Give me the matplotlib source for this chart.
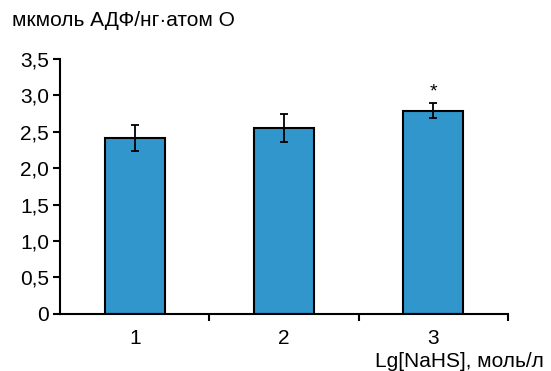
import matplotlib.pyplot as plt

plt.rcParams['font.family'] = ['Liberation Sans', 'DejaVu Sans']

groups = [1, 2, 3]
values = [2.42, 2.55, 2.79]
errors = [0.18, 0.19, 0.10]
yticks = [0, 0.5, 1.0, 1.5, 2.0, 2.5, 3.0, 3.5]
ytick_labels = ["0", "0,5", "1,0", "1,5", "2,0", "2,5", "3,0", "3,5"]
ylabel = "мкмоль АДФ/нг·атом О"
xlabel = "Lg[NaHS], моль/л"
star_group = 3
star_y = 3.05

fig = plt.figure(figsize=(5.51, 3.71), dpi=100)
ax = fig.add_axes([0.109, 0.154, 0.813, 0.687])

ax.bar(groups, values, width=0.4, color="#3196cb", edgecolor="black", linewidth=1.5, zorder=2)
ax.errorbar(groups, values, yerr=errors, fmt="none", ecolor="black", elinewidth=1.3,
            capsize=3, capthick=1.3, zorder=3)
ax.text(star_group, star_y, "*", ha="center", va="center", fontsize=14)

ax.set_xlim(0.5, 3.5)
ax.set_ylim(0, 3.5)
ax.set_yticks(yticks)
ax.set_yticklabels(ytick_labels)
ax.set_xticks(groups)
ax.set_xticks([1.5, 2.5, 3.5], minor=True)
ax.tick_params(axis="x", which="major", length=0, labelsize=15, pad=11)
ax.tick_params(axis="x", which="minor", length=5, width=1.5, direction="out")
ax.tick_params(axis="y", length=5, width=1.5, direction="out", labelsize=15, pad=3)

for side in ("top", "right"):
    ax.spines[side].set_visible(False)
for side in ("left", "bottom"):
    ax.spines[side].set_linewidth(1.5)

fig.text(12 / 551, 1 - 20 / 371, ylabel, ha="left", va="center", fontsize=15)
fig.text(544 / 551, 1 - 367 / 371, xlabel, ha="right", va="baseline", fontsize=15)

fig.savefig("out.png", dpi=100)
plt.close(fig)
